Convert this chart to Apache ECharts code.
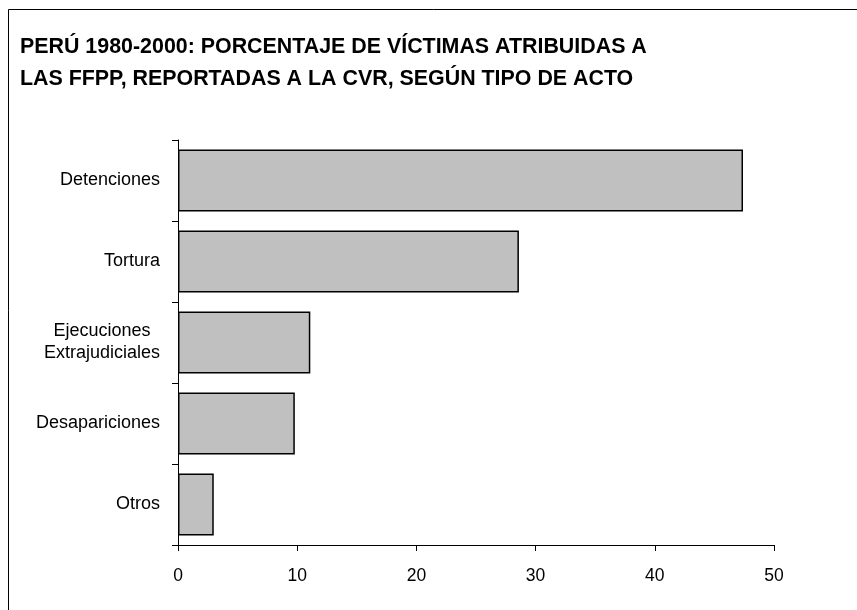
<!DOCTYPE html>
<html>
<head>
<meta charset="utf-8">
<script src="https://cdn.jsdelivr.net/npm/echarts@6/dist/echarts.min.js"></script>
<style>
html,body{margin:0;padding:0;background:#fff;}
#main{width:857px;height:610px;}
</style>
</head>
<body>
<div id="main"></div>
<script>
var titleLines = ['PERÚ 1980-2000: PORCENTAJE DE VÍCTIMAS ATRIBUIDAS A', 'LAS FFPP, REPORTADAS A LA CVR, SEGÚN TIPO DE ACTO'];
var categories = ['Detenciones', 'Tortura', 'Ejecuciones\nExtrajudiciales', 'Desapariciones', 'Otros'];
var values = [47.4, 28.6, 11.1, 9.8, 3.0];
var xTicks = [0, 10, 20, 30, 40, 50];

var chart = echarts.init(document.getElementById('main'));
chart.setOption({
  animation: false,
  backgroundColor: '#fff',
  title: {
    text: titleLines.join('\n'),
    left: 15,
    top: 26,
    textStyle: {
      fontFamily: 'Liberation Sans, Arial, sans-serif',
      fontWeight: 'bold',
      fontSize: 21.4,
      lineHeight: 32,
      color: '#000'
    }
  },
  graphic: [{
    type: 'rect',
    shape: {x: 8.5, y: 9.5, width: 900, height: 700},
    style: {fill: 'none', stroke: '#000', lineWidth: 1},
    silent: true
  }],
  grid: {left: 178, right: 83, top: 140, bottom: 65, containLabel: false},
  xAxis: {
    type: 'value',
    min: 0,
    max: 50,
    interval: 10,
    axisLine: {show: true, lineStyle: {color: '#000', width: 1}},
    axisTick: {show: true, length: 6, lineStyle: {color: '#000'}},
    splitLine: {show: false},
    axisLabel: {
      fontFamily: 'Liberation Sans, Arial, sans-serif',
      fontSize: 17.5, color: '#000', margin: 22,
      formatter: function (v) { return xTicks.indexOf(v) >= 0 ? String(v) : ''; }
    }
  },
  yAxis: {
    type: 'category',
    data: categories,
    inverse: true,
    axisLine: {show: true, lineStyle: {color: '#000', width: 1}},
    axisTick: {show: true, length: 6, lineStyle: {color: '#000'}},
    axisLabel: {
      color: '#000', margin: 18,
      formatter: function (v) {
        return v.split('\n').map(function (s) { return '{c|' + s + '}'; }).join('\n');
      },
      rich: {
        c: {
          fontFamily: 'Liberation Sans, Arial, sans-serif',
          fontSize: 18, color: '#000', lineHeight: 22, align: 'center'
        }
      }
    }
  },
  series: [{
    type: 'bar',
    data: values,
    barCategoryGap: '23.5%',
    itemStyle: {color: '#c0c0c0', borderColor: '#000', borderWidth: 1.5},
    silent: true
  }]
});
</script>
</body>
</html>
